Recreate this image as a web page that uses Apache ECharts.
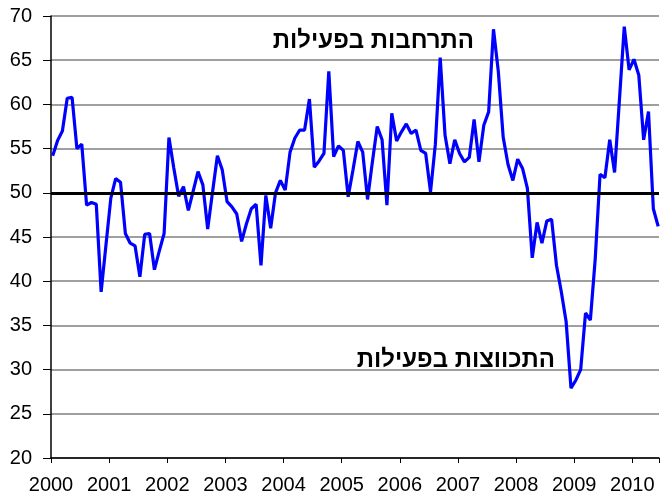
<!DOCTYPE html>
<html>
<head>
<meta charset="utf-8">
<script src="https://cdn.jsdelivr.net/npm/echarts@6/dist/echarts.min.js"></script>
<style>html,body{margin:0;padding:0;background:#fff;}#c{width:662px;height:495px;}</style>
</head>
<body>
<div id="c"></div>
<script>
const startYear = 2000;
const values2000 = [54.2, 55.9, 57.0, 60.7, 60.8, 55.0, 55.5, 48.6, 48.9, 48.7, 38.8, 44.1];
const values2001 = [49.4, 51.6, 51.2, 45.4, 44.3, 44.0, 40.5, 45.3, 45.4, 41.3, 43.4, 45.4];
const values2002 = [56.25, 52.8, 49.6, 50.7, 48.0, 50.2, 52.4, 50.9, 45.9, 50.1, 54.2, 52.6];
const values2003 = [49.0, 48.4, 47.6, 44.5, 46.5, 48.2, 48.7, 41.8, 49.7, 46.0, 50.0, 51.4];
const values2004 = [50.3, 54.6, 56.2, 57.1, 57.1, 60.6, 52.9, 53.6, 54.45, 63.75, 54.1, 55.3];
const values2005 = [54.8, 49.55, 52.6, 55.8, 54.6, 49.25, 53.5, 57.5, 56.0, 48.6, 59.0, 55.85];
const values2006 = [56.9, 57.8, 56.7, 57.1, 54.8, 54.45, 50.1, 55.5, 65.3, 56.5, 53.3, 56.0];
const values2007 = [54.45, 53.5, 54.0, 58.3, 53.5, 57.65, 59.15, 68.5, 63.7, 56.3, 53.2, 51.4];
const values2008 = [53.8, 52.75, 50.5, 42.65, 46.65, 44.3, 46.8, 47.0, 41.8, 38.8, 35.4, 27.9];
const values2009 = [28.8, 30.0, 36.4, 35.6, 42.5, 52.1, 51.7, 56.0, 52.3, 60.5, 68.8, 63.9];
const values2010 = [65.1, 63.3, 56.0, 59.2, 48.2, 46.2];
const yearTicks = [2000, 2001, 2002, 2003, 2004, 2005, 2006, 2007, 2008, 2009, 2010];
const baseline = 50;
const labelUp = 'התרחבות בפעילות';
const labelDown = 'התכווצות בפעילות';

const allValues = [].concat(values2000, values2001, values2002, values2003, values2004,
  values2005, values2006, values2007, values2008, values2009, values2010);
const seriesData = allValues.map((v, i) => [startYear + (i + 0.35) / 12, v]);

const chart = echarts.init(document.getElementById('c'), null, {renderer: 'canvas'});
const font = '"Liberation Sans", Arial, sans-serif';
const hebFont = 'bold 24px "Liberation Sans", Arial, sans-serif';
chart.setOption({
  animation: false,
  grid: {left: 51, right: 0, top: 16, bottom: 37},
  xAxis: {
    type: 'value', min: 2000, max: 2010.46, interval: 1,
    axisLine: {lineStyle: {color: '#000', width: 1.5}},
    axisTick: {show: true, length: 5, lineStyle: {color: '#000', width: 1}},
    splitLine: {show: false},
    axisLabel: {
      color: '#000', fontSize: 20, fontFamily: font, margin: 17,
      formatter: v => (Math.abs(v - Math.round(v)) < 1e-6 && yearTicks.indexOf(Math.round(v)) >= 0) ? String(Math.round(v)) : ''
    }
  },
  yAxis: {
    type: 'value', min: 20, max: 70, interval: 5,
    axisLine: {show: true, lineStyle: {color: '#000', width: 1.5}},
    axisTick: {show: true, length: 8, lineStyle: {color: '#000', width: 1}},
    splitLine: {show: true, lineStyle: {color: '#7f7f7f', width: 1.5}},
    axisLabel: {color: '#000', fontSize: 20, fontFamily: font, margin: 19}
  },
  series: [{
    type: 'line', data: seriesData, showSymbol: false,
    lineStyle: {color: '#0000ff', width: 3.2}, clip: false,
    markLine: {
      silent: true, symbol: 'none', label: {show: false},
      lineStyle: {color: '#000', width: 3, type: 'solid'},
      data: [{yAxis: baseline}]
    },
    z: 3
  }],
  graphic: [
    {type: 'text', x: 474, y: 41, style: {text: labelUp, font: hebFont, fill: '#000', textAlign: 'right', textVerticalAlign: 'middle'}},
    {type: 'text', x: 555, y: 360, style: {text: labelDown, font: hebFont, fill: '#000', textAlign: 'right', textVerticalAlign: 'middle'}}
  ]
});
</script>
</body>
</html>
